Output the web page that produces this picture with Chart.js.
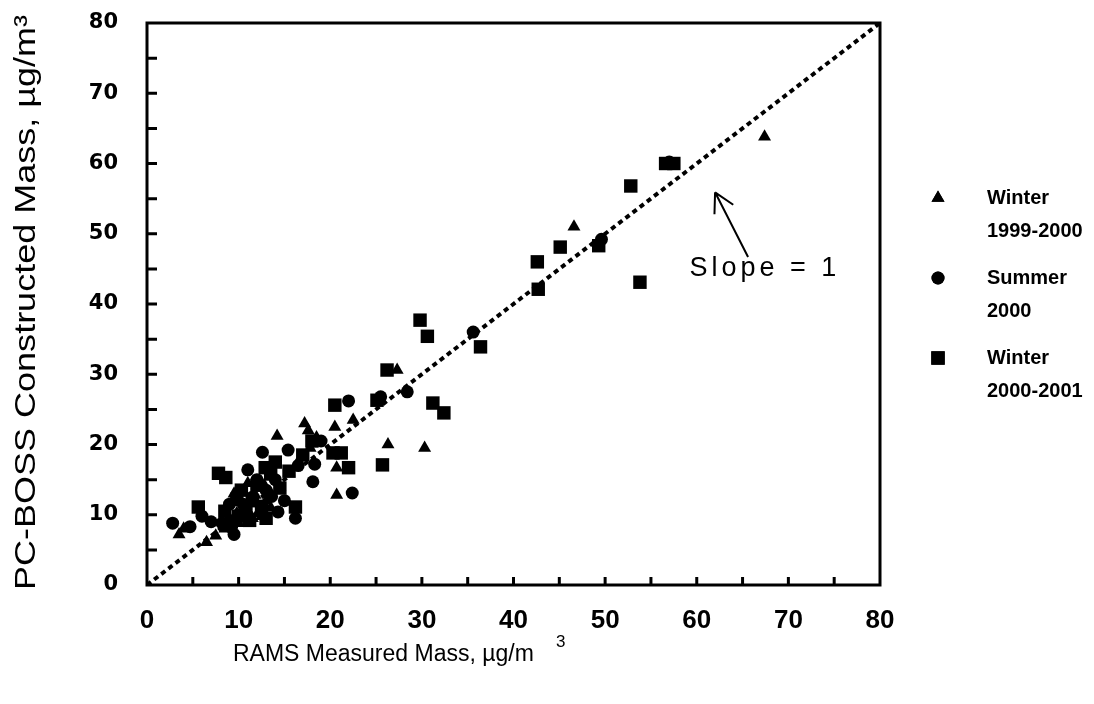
<!DOCTYPE html>
<html>
<head>
<meta charset="utf-8">
<script src="https://cdn.jsdelivr.net/npm/chart.js@4"></script>
<style>
  html, body { margin: 0; padding: 0; background: #fff; }
  #wrap { width: 1094px; height: 704px; }
</style>
</head>
<body>
<div id="wrap"><canvas id="chart" width="1094" height="704"></canvas></div>
<script>
// 軸の目盛り
const xTicks = [0, 10, 20, 30, 40, 50, 60, 70, 80];
const yTicks = [0, 10, 20, 30, 40, 50, 60, 70, 80];

// 軸タイトル
const xTitle = "RAMS Measured Mass, µg/m";
const xTitleSup = "3";
const yTitle = "PC-BOSS Constructed Mass, µg/m³";

// 系列ラベル
const seriesNames = [["Winter", "1999-2000"], ["Summer", "2000"], ["Winter", "2000-2001"]];

// Winter 1999-2000 (三角)
const winter9900 = [
  [3.5, 7.2], [4.0, 8.0], [6.5, 6.1], [7.5, 7.0], [8.5, 8.0], [9.0, 9.5], [10.0, 8.8],
  [10.5, 10.5], [11.5, 9.5], [12.1, 10.2], [12.5, 9.8], [13.0, 12.0], [13.5, 11.0],
  [14.2, 21.2], [14.5, 14.0], [15.5, 16.0], [16.5, 17.5], [17.2, 23.0], [17.6, 22.0],
  [17.8, 19.5], [18.5, 21.0], [20.5, 22.5], [20.7, 16.7], [20.7, 12.8], [22.5, 23.5],
  [26.3, 20.0], [27.3, 30.6], [30.3, 19.5], [46.6, 51.0], [67.4, 63.8], [11.0, 14.5], [9.5, 13.0],
  [11.8, 12.8], [12.8, 14.2], [9.8, 10.2]
];

// Summer 2000 (丸)
const summer00 = [
  [2.8, 8.8], [4.7, 8.3], [6.0, 9.8], [7.0, 9.0], [8.2, 8.8], [9.0, 11.5], [9.5, 7.2],
  [10.0, 10.0], [11.0, 16.4], [11.5, 12.5], [12.6, 18.9], [13.0, 13.5], [14.0, 15.0],
  [14.3, 10.4], [15.4, 19.2], [16.2, 9.5], [16.5, 17.0], [18.1, 14.7], [18.3, 17.2],
  [19.0, 20.5], [22.0, 26.2], [22.4, 13.1], [25.5, 26.8], [28.4, 27.5], [35.6, 36.0],
  [49.6, 49.2], [57.0, 60.2], [10.5, 11.5], [12.0, 15.0], [15.0, 12.0], [9.2, 8.2], [13.6, 12.6]
];

// Winter 2000-2001 (四角)
const winter0001 = [
  [5.6, 11.1], [7.8, 15.9], [8.6, 15.3], [8.5, 10.5], [9.2, 9.0], [9.8, 12.2], [10.3, 13.5],
  [10.8, 11.0], [11.2, 9.2], [12.0, 14.2], [12.9, 16.7], [13.5, 15.8], [14.5, 13.8],
  [15.5, 16.2], [16.2, 11.1], [17.0, 18.5], [18.0, 20.5], [20.3, 18.8], [21.2, 18.8],
  [20.5, 25.6], [22.0, 16.7], [25.1, 26.3], [25.7, 17.1], [26.2, 30.6], [29.8, 37.7],
  [30.6, 35.4], [31.2, 25.9], [32.4, 24.5], [36.4, 33.9], [42.6, 46.0], [42.7, 42.1],
  [45.1, 48.1], [49.3, 48.3], [52.8, 56.8], [53.8, 43.1], [56.6, 60.0], [57.5, 60.0],
  [13.0, 9.5], [11.5, 12.0], [10.0, 9.8], [12.5, 11.2], [14.0, 17.5]
];

// 1:1線
const slopeLine = [[0, 0], [80, 80]];

// 注記 (Slope = 1) の位置と矢印
const slopeText = "Slope = 1";
const slopeTextAt = [59.2, 45.1];
const arrowFrom = [65.6, 46.7];
const arrowTo = [62.0, 55.9];

const toXY = (arr) => arr.map(([x, y]) => ({ x, y }));

const markerStyles = [
  { pointStyle: "triangle", radius: 7.5 },
  { pointStyle: "circle", radius: 6.5 },
  { pointStyle: "rect", radius: 9.5 },
];

// 枠・内向き目盛り・軸タイトル・注記・凡例を描くプラグイン
const decorPlugin = {
  id: "decor",
  afterDatasetsDraw(chart) {
    const { ctx, chartArea: a, scales } = chart;
    const xs = scales.x, ys = scales.y;
    ctx.save();
    ctx.strokeStyle = "#000";
    ctx.fillStyle = "#000";
    ctx.lineWidth = 3;
    ctx.strokeRect(a.left, a.top, a.right - a.left, a.bottom - a.top);

    // 内向き目盛り (5刻み)
    ctx.beginPath();
    for (let v = 5; v < 80; v += 5) {
      const py = ys.getPixelForValue(v);
      ctx.moveTo(a.left, py);
      ctx.lineTo(a.left + 10, py);
      const px = xs.getPixelForValue(v);
      ctx.moveTo(px, a.bottom);
      ctx.lineTo(px, a.bottom - 8);
    }
    ctx.stroke();

    // 軸タイトル
    ctx.textBaseline = "middle";
    ctx.textAlign = "left";
    ctx.font = "23px 'Liberation Sans', Arial, sans-serif";
    ctx.fillText(xTitle, 233, 655);
    ctx.font = "17px 'Liberation Sans', Arial, sans-serif";
    ctx.fillText(xTitleSup, 556, 642);

    ctx.save();
    ctx.translate(27, 590);
    ctx.rotate(-Math.PI / 2);
    ctx.font = "30px 'Liberation Sans', Arial, sans-serif";
    const w = ctx.measureText(yTitle).width;
    ctx.scale(575 / w, 1);
    ctx.fillText(yTitle, 0, 0);
    ctx.restore();

    // 矢印
    const fx = xs.getPixelForValue(arrowFrom[0]), fy = ys.getPixelForValue(arrowFrom[1]);
    const tx = xs.getPixelForValue(arrowTo[0]), ty = ys.getPixelForValue(arrowTo[1]);
    ctx.lineWidth = 2;
    ctx.beginPath();
    ctx.moveTo(fx, fy);
    ctx.lineTo(tx, ty);
    const ang = Math.atan2(fy - ty, fx - tx);
    const hl = 22;
    ctx.moveTo(tx, ty);
    ctx.lineTo(tx + hl * Math.cos(ang - 0.5), ty + hl * Math.sin(ang - 0.5));
    ctx.moveTo(tx, ty);
    ctx.lineTo(tx + hl * Math.cos(ang + 0.5), ty + hl * Math.sin(ang + 0.5));
    ctx.stroke();

    // Slope = 1
    ctx.font = "27px 'Liberation Sans', Arial, sans-serif";
    ctx.letterSpacing = "4px";
    ctx.fillText(slopeText, xs.getPixelForValue(slopeTextAt[0]), ys.getPixelForValue(slopeTextAt[1]));
    ctx.letterSpacing = "0px";

    // 凡例
    const legendRows = [198, 278, 358];
    ctx.font = "bold 20px 'Liberation Sans', Arial, sans-serif";
    seriesNames.forEach((lines, i) => {
      const y0 = legendRows[i];
      Chart.helpers.drawPoint(ctx, {
        pointStyle: markerStyles[i].pointStyle,
        radius: markerStyles[i].radius,
        rotation: 0,
        borderWidth: 0,
      }, 938, y0);
      ctx.fill();
      lines.forEach((t, k) => ctx.fillText(t, 987, y0 + k * 33));
    });
    ctx.restore();
  },
};

const scatterSets = [winter9900, summer00, winter0001].map((data, i) => ({
  type: "scatter",
  label: seriesNames[i].join(" "),
  data: toXY(data),
  pointStyle: markerStyles[i].pointStyle,
  pointRadius: markerStyles[i].radius,
  backgroundColor: "#000",
  borderColor: "#000",
  borderWidth: 0,
}));

new Chart(document.getElementById("chart"), {
  data: {
    datasets: [
      {
        type: "line",
        label: "Slope = 1",
        data: toXY(slopeLine),
        borderColor: "#000",
        borderWidth: 4,
        borderDash: [5, 4],
        pointRadius: 0,
        fill: false,
      },
      ...scatterSets,
    ],
  },
  options: {
    responsive: false,
    animation: false,
    layout: { padding: { left: 0, top: 23, right: 214, bottom: 0 } },
    plugins: { legend: { display: false }, tooltip: { enabled: false } },
    scales: {
      x: {
        type: "linear",
        min: 0,
        max: 80,
        afterBuildTicks: (s) => { s.ticks = xTicks.map((v) => ({ value: v })); },
        afterFit: (s) => { s.height = 704 - 585; },
        grid: { display: false, drawTicks: false },
        border: { display: false },
        ticks: {
          padding: 20,
          color: "#000",
          font: { family: "'Liberation Sans', Arial", size: 26, weight: "bold" },
        },
        title: { display: false },
      },
      y: {
        type: "linear",
        min: 0,
        max: 80,
        afterBuildTicks: (s) => { s.ticks = yTicks.map((v) => ({ value: v })); },
        afterFit: (s) => { s.width = 147; s.paddingTop = 0; s.paddingBottom = 0; },
        grid: { display: false, drawTicks: false },
        border: { display: false },
        ticks: {
          padding: 29,
          color: "#000",
          font: { family: "'DejaVu Sans', sans-serif", size: 21, weight: "bold" },
        },
        title: { display: false },
      },
    },
  },
  plugins: [decorPlugin],
});
</script>
</body>
</html>
